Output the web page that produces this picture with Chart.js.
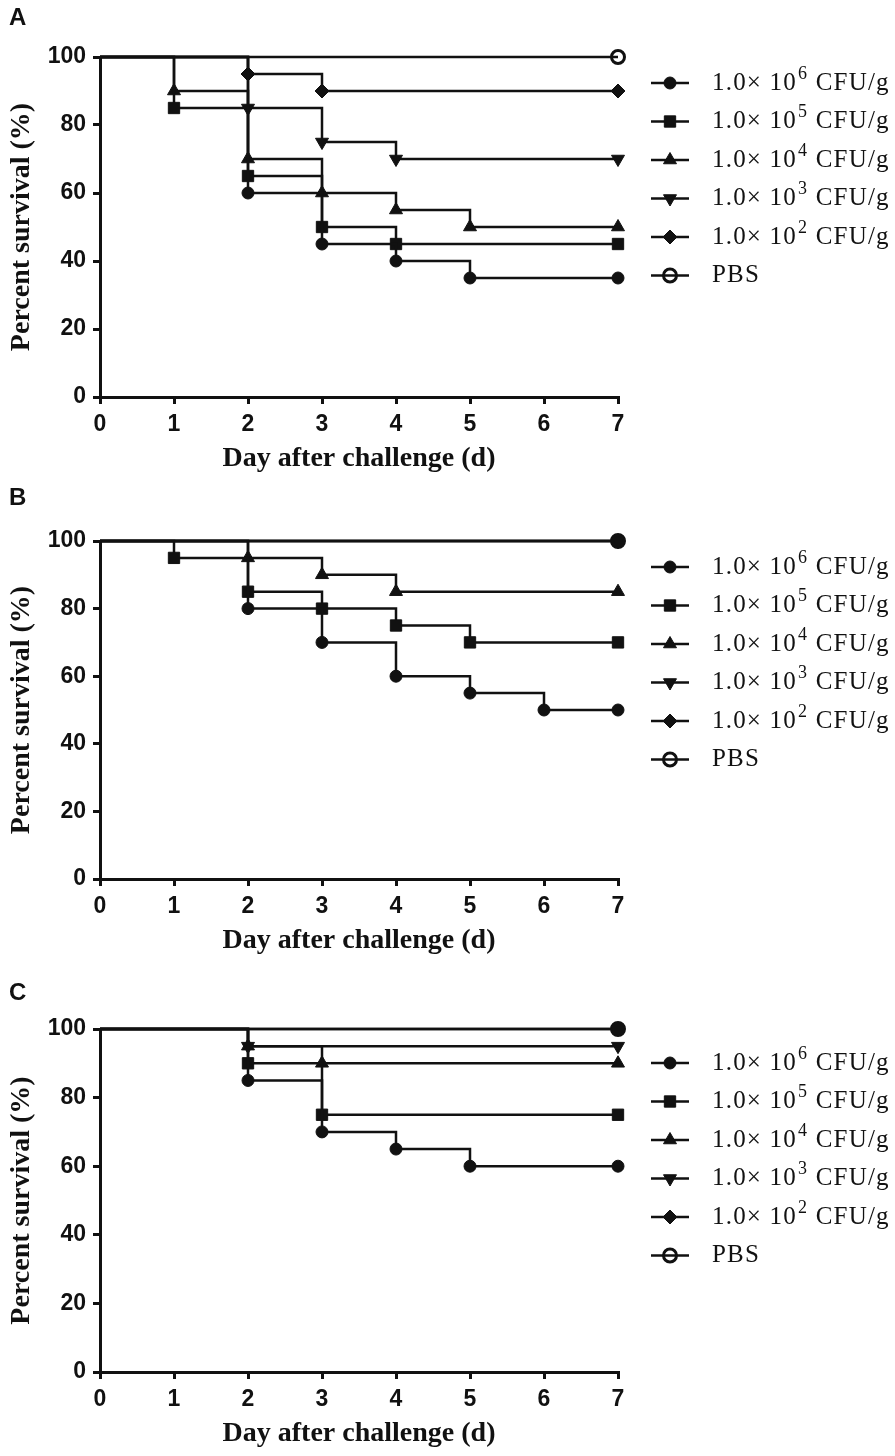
<!DOCTYPE html>
<html>
<head>
<meta charset="utf-8">
<script src="https://cdn.jsdelivr.net/npm/chart.js@4.4.1/dist/chart.umd.min.js"></script>
<style>
  html, body { margin: 0; padding: 0; background: #fff; }
  #page { position: relative; width: 895px; height: 1456px; overflow: hidden; }
  .panel { position: absolute; left: 0; width: 895px; }
  .tag { position: absolute; left: 9px; font: bold 24px "Liberation Sans", Arial, sans-serif; color: #111; line-height: 24px; }
</style>
</head>
<body>
<div id="page">
  <div class="panel" style="top:0;height:480px"><canvas id="chartA" width="895" height="480"></canvas></div>
  <div class="panel" style="top:480px;height:490px"><canvas id="chartB" width="895" height="490"></canvas></div>
  <div class="panel" style="top:970px;height:486px"><canvas id="chartC" width="895" height="486"></canvas></div>
  <div class="tag" style="top:5px">A</div>
  <div class="tag" style="top:485px">B</div>
  <div class="tag" style="top:980px">C</div>
</div>
<script>
// groups, same order in every panel
const groupLabels = ['1.0× 10^6 CFU/g', '1.0× 10^5 CFU/g', '1.0× 10^4 CFU/g', '1.0× 10^3 CFU/g', '1.0× 10^2 CFU/g', 'PBS'];

// panel A : day of each step, percent survival after it
const aDays = [[0, 2, 3, 4, 5, 7], [0, 1, 2, 3, 4, 7], [0, 1, 2, 3, 4, 5, 7], [0, 2, 3, 4, 7], [0, 2, 3, 7], [0, 7]];
const aSurv = [[100, 60, 45, 40, 35, 35], [100, 85, 65, 50, 45, 45], [100, 90, 70, 60, 55, 50, 50], [100, 85, 75, 70, 70], [100, 95, 90, 90], [100, 100]];

// panel B
const bDays = [[0, 2, 3, 4, 5, 6, 7], [0, 1, 2, 3, 4, 5, 7], [0, 2, 3, 4, 7], [0, 7], [0, 7], [0, 7]];
const bSurv = [[100, 80, 70, 60, 55, 50, 50], [100, 95, 85, 80, 75, 70, 70], [100, 95, 90, 85, 85], [100, 100], [100, 100], [100, 100]];

// panel C
const cDays = [[0, 2, 3, 4, 5, 7], [0, 2, 3, 7], [0, 2, 3, 7], [0, 2, 7], [0, 7], [0, 7]];
const cSurv = [[100, 85, 70, 65, 60, 60], [100, 90, 75, 75], [100, 95, 90, 90], [100, 95, 95], [100, 100], [100, 100]];

const dayTicks = [0, 1, 2, 3, 4, 5, 6, 7];
const survTicks = [0, 20, 40, 60, 80, 100];

const ink = '#111';
const markerStyles = ['circle', 'rect', 'triangle', 'triangle', 'rectRot', 'circle'];
const markerTurns = [0, 0, 0, 180, 0, 0];
const markerSizes = [6, 8, 7.5, 7.5, 7, 6.5];

const tickFont = { family: '"Liberation Sans", Arial, sans-serif', size: 23, weight: 'bold' };
const titleFont = { family: '"Liberation Serif", "Times New Roman", serif', size: 28, weight: 'bold' };
const serif = '"Liberation Serif", "Times New Roman", serif';

// line + marker + text legend on the right, like the original figure
const stepLegend = {
  id: 'stepLegend',
  afterDraw(chart, args, opts) {
    const ctx = chart.ctx;
    const top = chart.chartArea.top + opts.offset;
    chart.data.datasets.forEach((ds, i) => {
      const y = top + i * opts.gap;
      ctx.save();
      ctx.strokeStyle = ink;
      ctx.lineWidth = 2.5;
      ctx.beginPath();
      ctx.moveTo(651, y);
      ctx.lineTo(689, y);
      ctx.stroke();
      ctx.fillStyle = i === 5 ? 'rgba(255,255,255,0)' : ink;
      ctx.lineWidth = i === 5 ? 3 : 1;
      Chart.helpers.drawPoint(ctx, {
        pointStyle: markerStyles[i], rotation: markerTurns[i],
        radius: markerSizes[i], borderWidth: ctx.lineWidth
      }, 670, y);

      ctx.fillStyle = ink;
      ctx.textBaseline = 'middle';
      ctx.textAlign = 'left';
      ctx.letterSpacing = '1.2px';
      const label = ds.label;
      const cut = label.indexOf('^');
      let x = 712;
      ctx.font = '25px ' + serif;
      if (cut < 0) {
        ctx.fillText(label, x, y);
      } else {
        const base = label.slice(0, cut);
        const exp = label.charAt(cut + 1);
        const rest = label.slice(cut + 2);
        ctx.fillText(base, x, y);
        x += ctx.measureText(base).width + 1;
        ctx.font = '18px ' + serif;
        ctx.fillText(exp, x, y - 9);
        x += ctx.measureText(exp).width;
        ctx.font = '25px ' + serif;
        ctx.fillText(rest, x, y);
      }
      ctx.restore();
    });
  }
};

function makePanel(id, days, surv, geo) {
  const datasets = days.map((d, i) => ({
    label: groupLabels[i],
    data: d.map((x, k) => ({ x: x, y: surv[i][k] })),
    stepped: true,
    borderColor: ink,
    borderWidth: 2.5,
    borderJoinStyle: 'miter',
    fill: false,
    clip: false,
    pointStyle: markerStyles[i],
    pointRotation: markerTurns[i],
    pointRadius: c => (c.dataIndex === 0 ? 0 : markerSizes[i]),
    pointBackgroundColor: i === 5 ? 'rgba(255,255,255,0)' : ink,
    pointBorderColor: ink,
    pointBorderWidth: i === 5 ? 3 : 1
  }));

  return new Chart(document.getElementById(id), {
    type: 'line',
    data: { datasets: datasets },
    options: {
      responsive: false,
      animation: false,
      events: [],
      layout: { padding: { top: geo.top, right: 277, bottom: geo.bottom, left: 0 } },
      plugins: {
        legend: { display: false },
        tooltip: { enabled: false },
        stepLegend: { offset: geo.legend, gap: 38.5 }
      },
      scales: {
        x: {
          type: 'linear',
          min: 0,
          max: 7,
          afterBuildTicks: s => { s.ticks = dayTicks.map(v => ({ value: v })); },
          afterFit: s => { s.height = 79; },
          border: { display: true, color: ink, width: 3 },
          grid: { drawOnChartArea: false, drawTicks: true, tickLength: 7, color: ink, lineWidth: 3 },
          ticks: { color: ink, font: tickFont, padding: 7, maxRotation: 0 },
          title: { display: true, text: 'Day after challenge (d)', color: ink, font: titleFont, padding: 0 }
        },
        y: {
          min: 0,
          max: 100,
          afterBuildTicks: s => { s.ticks = survTicks.map(v => ({ value: v })); },
          afterFit: s => { s.width = 100; },
          border: { display: true, color: ink, width: 3 },
          grid: { drawOnChartArea: false, drawTicks: true, tickLength: 7, color: ink, lineWidth: 3 },
          ticks: { color: ink, font: tickFont, padding: 7 },
          title: { display: true, text: 'Percent survival (%)', color: ink, font: titleFont, padding: { top: 5, bottom: 0 } }
        }
      }
    },
    plugins: [stepLegend]
  });
}

makePanel('chartA', aDays, aSurv, { top: 57, bottom: 4, legend: 26 });
makePanel('chartB', bDays, bSurv, { top: 61, bottom: 12, legend: 26 });
makePanel('chartC', cDays, cSurv, { top: 59, bottom: 5, legend: 34 });
</script>
</body>
</html>
